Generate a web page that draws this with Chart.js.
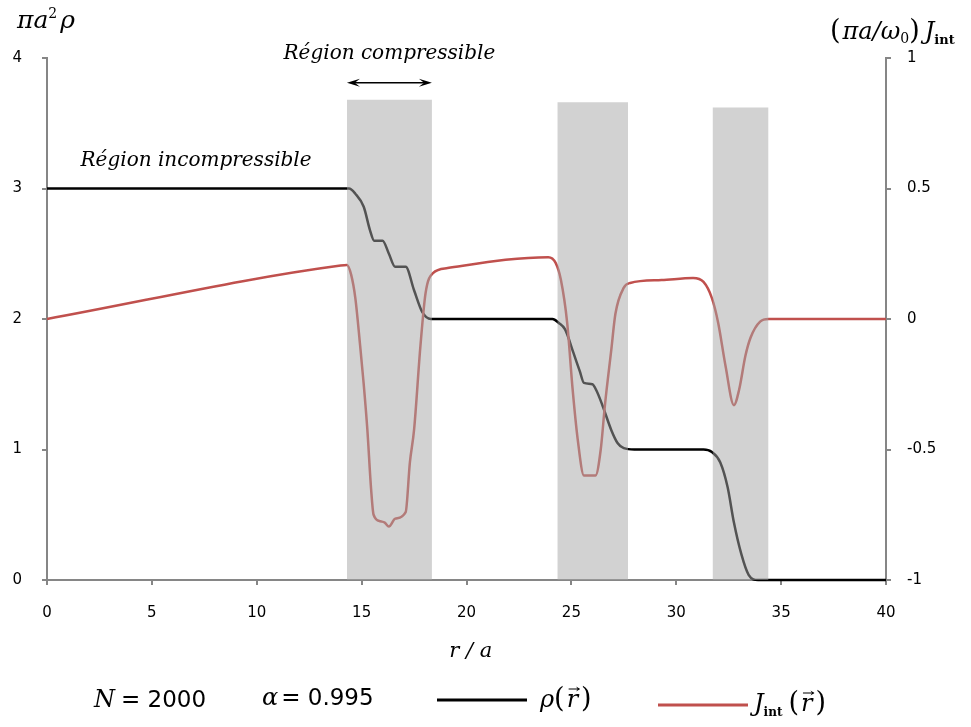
<!DOCTYPE html>
<html>
<head>
<meta charset="utf-8">
<script src="https://cdn.jsdelivr.net/npm/chart.js@4/dist/chart.umd.min.js"></script>
<style>
    body { margin: 0; background: #fff; }
    #wrap { width: 971px; height: 727px; }
</style>
</head>
<body>
<div id="wrap"><canvas id="densityChart"></canvas></div>
<script>
// density rho(r) (left axis)
const rhoR = [0, 14.2, 14.4, 14.7, 15.1, 15.4, 15.6, 16.0, 16.3, 16.6, 17.1, 17.5, 17.9, 18.3,
    24.1, 24.4, 24.7, 25.1, 25.4, 25.6, 26.0, 26.2, 26.5, 26.9, 27.2, 27.5, 28.0,
    31.3, 31.7, 32.1, 32.45, 32.75, 33.1, 33.45, 33.9, 40];
const rhoVal = [3, 3, 3, 2.96, 2.86, 2.68, 2.6, 2.6, 2.5, 2.4, 2.4, 2.22, 2.05, 2.0,
    2.0, 1.97, 1.92, 1.74, 1.6, 1.51, 1.5, 1.45, 1.33, 1.15, 1.05, 1.01, 1.0,
    1.0, 0.98, 0.9, 0.71, 0.44, 0.2, 0.04, 0, 0];

// current J_int(r) (right axis)
const jR = [0, 14.0, 14.3, 14.5, 14.7, 14.95, 15.1, 15.27, 15.45, 15.57, 15.9, 16.1, 16.3, 16.6, 17.1,
    17.3, 17.5, 17.8, 18.05, 18.4, 19.1, 23.9, 24.25, 24.5, 24.8, 25.06, 25.3, 25.6, 26.15,
    26.4, 26.6, 26.9, 27.1, 27.5, 27.8, 29.3, 30.8, 31.3, 31.7, 32.0, 32.35, 32.75, 33.0,
    33.3, 33.55, 34.0, 34.4, 40];
const jVal = [0, 0.205, 0.207, 0.17, 0.08, -0.12, -0.25, -0.42, -0.65, -0.75, -0.775, -0.78, -0.795, -0.765, -0.74,
    -0.55, -0.425, -0.107, 0.10, 0.176, 0.195, 0.237, 0.215, 0.15, -0.015, -0.27, -0.46, -0.60, -0.6,
    -0.5, -0.33, -0.12, 0.02, 0.12, 0.138, 0.149, 0.157, 0.142, 0.08, -0.015, -0.18, -0.33, -0.27,
    -0.14, -0.07, -0.01, 0, 0];

// compressible regions (grey bands)
const bandStart = [14.3, 24.33, 31.73];
const bandEnd = [18.35, 27.7, 34.4];
const bandTop = [3.68, 3.66, 3.62];

const RED = "#C0504D";
const AXIS = "#868686";
const SERIF = "'DejaVu Serif', 'Liberation Serif', serif";
const SANS = "'DejaVu Sans', sans-serif";

const toPts = (xs, ys) => xs.map((x, i) => ({ x: x, y: ys[i] }));

const bandSets = bandStart.map((s, i) => ({
    label: "band" + i,
    data: [{ x: s, y: 0 }, { x: s, y: bandTop[i] }, { x: bandEnd[i], y: bandTop[i] }, { x: bandEnd[i], y: 0 }],
    yAxisID: "y",
    borderWidth: 0,
    pointRadius: 0,
    fill: "origin",
    backgroundColor: "rgba(165,165,165,0.5)",
    order: 0
}));

// draw a run of text pieces with different fonts
function drawRich(ctx, x, y, parts, align) {
    let w = 0;
    parts.forEach(p => { ctx.font = p.f; w += ctx.measureText(p.t).width + (p.gap || 0); });
    let cx = align === "center" ? x - w / 2 : x;
    parts.forEach(p => {
        ctx.font = p.f;
        ctx.fillText(p.t, cx, y + (p.dy || 0));
        cx += ctx.measureText(p.t).width + (p.gap || 0);
    });
    return w;
}

function arrowHead(ctx, x, y, dir, len, half) {
    ctx.beginPath();
    ctx.moveTo(x, y);
    ctx.lineTo(x - dir * len, y - half);
    ctx.lineTo(x - dir * len * 0.6, y);
    ctx.lineTo(x - dir * len, y + half);
    ctx.closePath();
    ctx.fill();
}

function vecR(ctx, x, y, font) {
    // italic r with a small arrow on top
    ctx.font = font;
    ctx.fillText("r", x, y);
    const w = ctx.measureText("r").width;
    ctx.beginPath();
    ctx.lineWidth = 1;
    ctx.moveTo(x + 2, y - 18);
    ctx.lineTo(x + w + 1, y - 18);
    ctx.stroke();
    arrowHead(ctx, x + w + 2, y - 18, 1, 4, 2.5);
    return w;
}

const annotations = {
    id: "annotations",
    afterDraw(chart) {
        const ctx = chart.ctx;
        const xs = chart.scales.x;
        const ys = chart.scales.y;
        ctx.save();
        ctx.fillStyle = "#000";
        ctx.strokeStyle = "#000";
        ctx.textBaseline = "alphabetic";
        ctx.textAlign = "left";

        const it = "italic 20px " + SERIF;

        // compressible label + double arrow over the first band
        const c0 = (xs.getPixelForValue(bandStart[0]) + xs.getPixelForValue(bandEnd[0])) / 2;
        drawRich(ctx, c0, 59, [{ t: "Région compressible", f: it }], "center");
        const ay = ys.getPixelForValue(3.81);
        const ax0 = xs.getPixelForValue(bandStart[0]);
        const ax1 = xs.getPixelForValue(bandEnd[0]);
        ctx.lineWidth = 1.5;
        ctx.beginPath();
        ctx.moveTo(ax0 + 4, ay);
        ctx.lineTo(ax1 - 4, ay);
        ctx.stroke();
        arrowHead(ctx, ax0, ay, -1, 13, 4);
        arrowHead(ctx, ax1, ay, 1, 13, 4);

        drawRich(ctx, xs.getPixelForValue(1.6), ys.getPixelForValue(3.17),
            [{ t: "Région incompressible", f: it }], "left");

        // left axis title
        drawRich(ctx, 17, 28, [
            { t: "πa", f: "italic 25px " + SERIF },
            { t: "2", f: "14px " + SERIF, dy: -10, gap: 3 },
            { t: "ρ", f: "italic 25px " + SERIF }
        ], "left");

        // right axis title
        drawRich(ctx, 830, 39, [
            { t: "(", f: "27px " + SERIF, gap: 2 },
            { t: "πa/ω", f: "italic 24px " + SERIF },
            { t: "0", f: "14px " + SERIF, dy: 4 },
            { t: ")", f: "27px " + SERIF, gap: 5 },
            { t: "J", f: "italic 24px " + SERIF },
            { t: "int", f: "bold 13px " + SERIF, dy: 5 }
        ], "left");

        // x axis title
        drawRich(ctx, xs.getPixelForValue(20.2), 657, [{ t: "r / a", f: "italic 21px " + SERIF }], "center");

        // bottom legend
        drawRich(ctx, 94, 707, [
            { t: "N", f: "italic 24px " + SERIF, gap: 6 },
            { t: "= 2000", f: "23px " + SANS }
        ], "left");
        drawRich(ctx, 262, 705, [
            { t: "α", f: "italic 24px " + SERIF, gap: 3 },
            { t: "= 0.995", f: "23px " + SANS }
        ], "left");

        const sets = chart.data.datasets;
        ctx.lineWidth = 3;
        ctx.strokeStyle = sets[0].borderColor;
        ctx.beginPath();
        ctx.moveTo(437, 700);
        ctx.lineTo(527, 700);
        ctx.stroke();
        ctx.strokeStyle = sets[1].borderColor;
        ctx.beginPath();
        ctx.moveTo(658, 705);
        ctx.lineTo(748, 705);
        ctx.stroke();

        ctx.strokeStyle = "#000";
        let px = 540;
        px += drawRich(ctx, px, 707, [{ t: "ρ", f: "italic 24px " + SERIF }, { t: "(", f: "27px " + SERIF, gap: 2 }], "left");
        px += vecR(ctx, px, 707, "italic 24px " + SERIF) + 3;
        drawRich(ctx, px, 707, [{ t: ")", f: "27px " + SERIF }], "left");

        px = 754;
        px += drawRich(ctx, px, 711, [
            { t: "J", f: "italic 24px " + SERIF },
            { t: "int", f: "bold 12px " + SERIF, dy: 5, gap: 6 },
            { t: "(", f: "27px " + SERIF, gap: 2 }
        ], "left");
        px += vecR(ctx, px, 711, "italic 24px " + SERIF) + 3;
        drawRich(ctx, px, 711, [{ t: ")", f: "27px " + SERIF }], "left");

        ctx.restore();
    }
};

const tickFont = { family: SANS, size: 15 };
const ctx = document.getElementById("densityChart").getContext("2d");

new Chart(ctx, {
    type: "line",
    data: {
        datasets: [
            {
                label: "rho",
                data: toPts(rhoR, rhoVal),
                yAxisID: "y",
                borderColor: "#000000",
                borderWidth: 2.5,
                pointRadius: 0,
                cubicInterpolationMode: "monotone",
                clip: 4,
                order: 2
            },
            {
                label: "J_int",
                data: toPts(jR, jVal),
                yAxisID: "y2",
                borderColor: RED,
                borderWidth: 2.5,
                pointRadius: 0,
                cubicInterpolationMode: "monotone",
                clip: 4,
                order: 1
            },
            ...bandSets
        ]
    },
    options: {
        responsive: true,
        maintainAspectRatio: false,
        animation: false,
        layout: { padding: { top: 58 } },
        plugins: {
            legend: { display: false },
            tooltip: { enabled: false },
            filler: { drawTime: "beforeDatasetDraw" }
        },
        scales: {
            x: {
                type: "linear",
                min: 0,
                max: 40,
                ticks: { stepSize: 5, color: "#000", padding: 19, font: tickFont },
                grid: { drawOnChartArea: false, drawTicks: true, tickLength: 5, color: AXIS, lineWidth: 2 },
                border: { display: true, color: AXIS, width: 2 },
                afterFit(scale) { scale.height = 147; }
            },
            y: {
                position: "left",
                min: 0,
                max: 4,
                ticks: { stepSize: 1, color: "#000", padding: 20, font: tickFont },
                grid: { drawOnChartArea: false, drawTicks: true, tickLength: 5, color: AXIS, lineWidth: 2 },
                border: { display: true, color: AXIS, width: 2 },
                afterFit(scale) { scale.width = 47; }
            },
            y2: {
                position: "right",
                min: -1,
                max: 1,
                ticks: {
                    stepSize: 0.5, color: "#000", padding: 16, font: tickFont,
                    callback: v => String(v)
                },
                grid: { drawOnChartArea: false, drawTicks: true, tickLength: 5, color: AXIS, lineWidth: 2 },
                border: { display: true, color: AXIS, width: 2 },
                afterFit(scale) { scale.width = 85; }
            }
        }
    },
    plugins: [annotations]
});
</script>
</body>
</html>
